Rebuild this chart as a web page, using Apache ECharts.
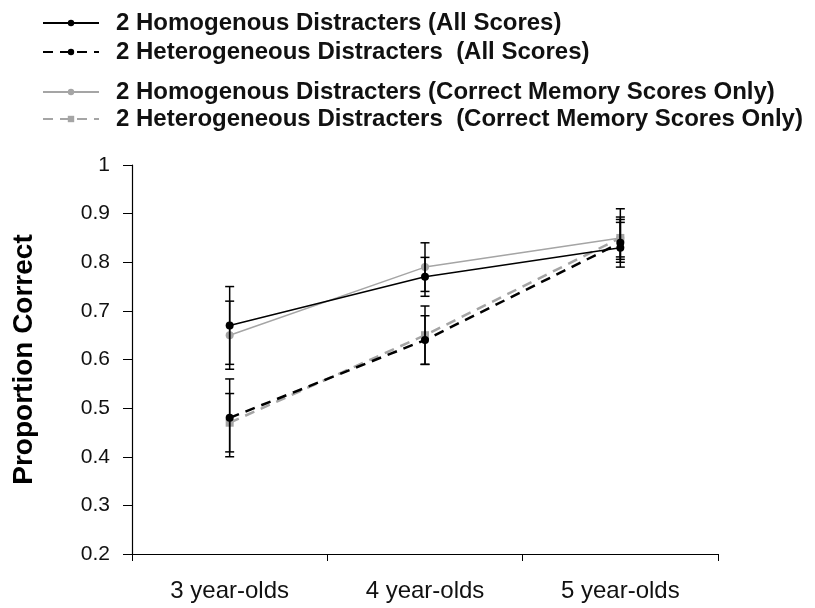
<!DOCTYPE html>
<html><head><meta charset="utf-8">
<script src="https://cdn.jsdelivr.net/npm/echarts@6/dist/echarts.min.js"></script>
<style>html,body{margin:0;padding:0;background:#fff}#c{width:815px;height:608px}</style>
</head><body><div id="c"></div>
<script>
const categories = ['3 year-olds', '4 year-olds', '5 year-olds'];
const seriesNames = [
  '2 Homogenous Distracters (All Scores)',
  '2 Heterogeneous Distracters  (All Scores)',
  '2 Homogenous Distracters (Correct Memory Scores Only)',
  '2 Heterogeneous Distracters  (Correct Memory Scores Only)'
];
const homAll = [0.67, 0.77, 0.83];
const hetAll = [0.48, 0.64, 0.84];
const homCorrect = [0.65, 0.79, 0.85];
const hetCorrect = [0.47, 0.65, 0.85];
const homAllLow = [0.59, 0.73, 0.80];
const homAllHigh = [0.75, 0.81, 0.882];
const hetAllLow = [0.40, 0.59, 0.806];
const hetAllHigh = [0.56, 0.69, 0.888];
const homCorrectLow = [0.58, 0.74, 0.79];
const homCorrectHigh = [0.72, 0.84, 0.91];
const hetCorrectLow = [0.41, 0.59, 0.811];
const hetCorrectHigh = [0.53, 0.71, 0.893];
const yTicks = [0.2, 0.3, 0.4, 0.5, 0.6, 0.7, 0.8, 0.9, 1];

const chart = echarts.init(document.getElementById('c'));
const FONT = '"Liberation Sans", Arial, sans-serif';
const GREY = '#a5a5a5';

function errSeries(low, high) {
  return {
    type: 'custom',
    silent: true,
    z: 5,
    data: categories.map((c, i) => [i, low[i], high[i]]),
    renderItem: function (params, api) {
      const x = api.value(0);
      const p1 = api.coord([x, api.value(1)]);
      const p2 = api.coord([x, api.value(2)]);
      const w = 4.5;
      const st = { stroke: '#000', lineWidth: 1.5 };
      return {
        type: 'group',
        children: [
          { type: 'line', shape: { x1: p1[0], y1: p1[1], x2: p2[0], y2: p2[1] }, style: st },
          { type: 'line', shape: { x1: p1[0] - w, y1: p1[1], x2: p1[0] + w, y2: p1[1] }, style: st },
          { type: 'line', shape: { x1: p2[0] - w, y1: p2[1], x2: p2[0] + w, y2: p2[1] }, style: st }
        ]
      };
    }
  };
}

function legend(name, top) {
  return {
    data: [{ name: name }],
    left: 37, top: top,
    itemWidth: 56, itemHeight: 8, itemGap: 0,
    textStyle: { fontFamily: FONT, fontWeight: 'bold', fontSize: 24, color: '#111', padding: [0, 0, 0, 12] },
    selectedMode: false
  };
}

chart.setOption({
  animation: false,
  backgroundColor: '#fff',
  legend: [
    legend(seriesNames[0], 6),
    legend(seriesNames[1], 35),
    legend(seriesNames[2], 75),
    legend(seriesNames[3], 102)
  ],
  grid: { left: 132, right: 97, top: 165, bottom: 54 },
  xAxis: {
    type: 'category', data: categories, boundaryGap: true,
    axisLine: { lineStyle: { color: '#000', width: 1.2 } },
    axisTick: { show: true, length: 7, interval: 0, lineStyle: { color: '#000' } },
    axisLabel: { fontFamily: FONT, fontSize: 24, color: '#111', margin: 25 }
  },
  yAxis: {
    type: 'value', min: 0.2, max: 1, interval: 0.1,
    name: 'Proportion Correct', nameLocation: 'middle', nameGap: 94, nameRotate: 90,
    nameTextStyle: { fontFamily: FONT, fontWeight: 'bold', fontSize: 28, color: '#000' },
    splitLine: { show: false },
    axisLine: { show: true, lineStyle: { color: '#000', width: 1.2 } },
    axisTick: { show: true, length: 9, lineStyle: { color: '#000' } },
    axisLabel: { fontFamily: FONT, fontSize: 21, color: '#111', margin: 22,
      formatter: v => String(Math.round(v * 10) / 10) }
  },
  series: [
    { name: seriesNames[0], type: 'line', data: homAll, symbol: 'circle', symbolSize: 8, z: 4,
      itemStyle: { color: '#000' }, lineStyle: { color: '#000', width: 1.5 } },
    { name: seriesNames[1], type: 'line', data: hetAll, symbol: 'circle', symbolSize: 8, z: 4,
      itemStyle: { color: '#000' }, lineStyle: { color: '#000', width: 2.5, type: [10, 7] } },
    { name: seriesNames[2], type: 'line', data: homCorrect, symbol: 'circle', symbolSize: 8, z: 3,
      itemStyle: { color: GREY }, lineStyle: { color: GREY, width: 1.5 } },
    { name: seriesNames[3], type: 'line', data: hetCorrect, symbol: 'rect', symbolSize: 8, z: 3,
      itemStyle: { color: GREY }, lineStyle: { color: GREY, width: 2.5, type: [10, 7] } },
    errSeries(homAllLow, homAllHigh),
    errSeries(hetAllLow, hetAllHigh),
    errSeries(homCorrectLow, homCorrectHigh),
    errSeries(hetCorrectLow, hetCorrectHigh)
  ]
});
</script></body></html>
